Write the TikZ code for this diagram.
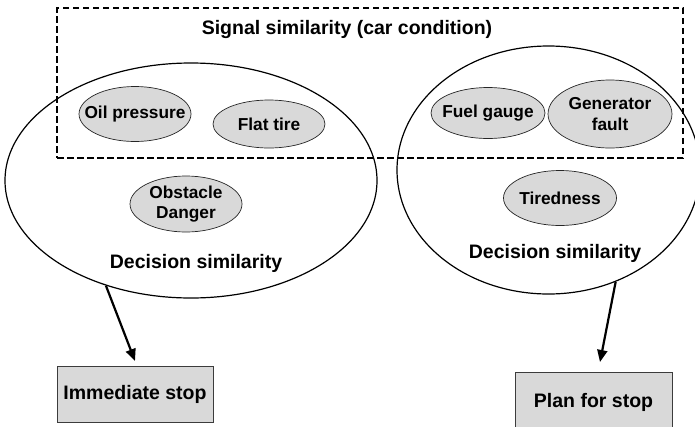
\documentclass[tikz,border=0pt]{standalone}
\usepackage{fontspec}
\setmainfont{Liberation Sans}
\usetikzlibrary{shapes.geometric,arrows.meta}
\definecolor{cellgray}{RGB}{217,217,217}
\definecolor{edgegray}{RGB}{60,60,60}
\begin{document}
\begin{tikzpicture}[x=1pt,y=-1pt,
  region/.style={draw=black, ellipse, line width=1.2pt, inner sep=0pt},
  factor/.style={draw=black!85, fill=cellgray, ellipse, line width=0.7pt, inner sep=0pt},
  ftxt/.style={font=\bfseries\fontsize{17.3}{20.5}\selectfont, align=center, inner sep=0pt},
  htxt/.style={font=\bfseries\fontsize{19.5}{23}\selectfont, inner sep=0pt},
  outcome/.style={draw=edgegray, fill=cellgray, line width=0.8pt, inner sep=0pt,
    font=\bfseries\fontsize{19.5}{23}\selectfont},
  flow/.style={line width=2.2pt, -{Triangle[length=12pt,width=10pt]}},
  signalbox/.style={draw=black, line width=2.5pt, dash pattern=on 6.5pt off 3.5pt, inner sep=0pt}
]
\useasboundingbox (0,0) rectangle (695,426);

% dashed frame for the car-condition signals
\node[signalbox, minimum width=626pt, minimum height=150pt] (signal) at (370,83) {};
\node[htxt] (title) at (347,29) {Signal similarity (car condition)};

% decision regions
\node[region, minimum width=372pt, minimum height=235pt] (leftR) at (191,180.5) {};
\node[region, minimum width=303pt, minimum height=248pt] (rightR) at (548.5,170) {};

% individual factors
\node[factor, minimum width=112pt, minimum height=55pt] (oil) at (135,114) {};
\node[ftxt] (oilT) at (oil) {Oil pressure};
\node[factor, minimum width=112pt, minimum height=48pt] (flat) at (269,124) {};
\node[ftxt] (flatT) at (flat) {Flat tire};
\node[factor, minimum width=112pt, minimum height=56pt] (obst) at (186,204) {};
\node[ftxt] (obstT) at (obst) {Obstacle\\Danger};
\node[factor, minimum width=114pt, minimum height=51pt] (fuel) at (488,113) {};
\node[ftxt] (fuelT) at (fuel) {Fuel gauge};
\node[factor, minimum width=124pt, minimum height=68pt] (gen) at (610,114) {};
\node[ftxt] (genT) at (gen) {Generator\\fault};
\node[factor, minimum width=113pt, minimum height=55pt] (tired) at (560,198) {};
\node[ftxt] (tiredT) at (tired) {Tiredness};

\node[htxt] (decL) at (196,263) {Decision similarity};
\node[htxt] (decR) at (555,253) {Decision similarity};

% outcomes
\node[outcome, minimum width=156pt, minimum height=56pt] (stopA) at (135,394) {Immediate stop};
\node[outcome, minimum width=157pt, minimum height=60pt] (stopB) at (593.5,402) {Plan for stop};

\coordinate (tipA) at (135,361);
\coordinate (tipB) at (600,362);
\draw[flow] (leftR.231.5) -- (tipA);
\draw[flow] (rightR.301.1) -- (tipB);
\end{tikzpicture}
\end{document}
